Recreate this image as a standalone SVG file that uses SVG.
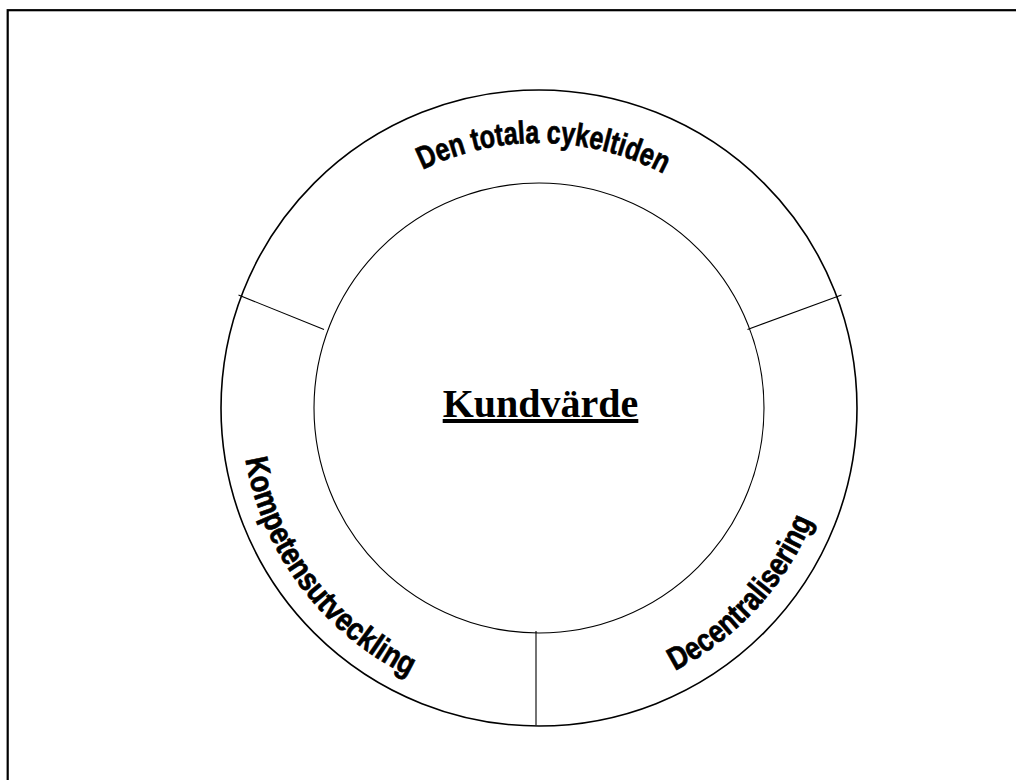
<svg xmlns="http://www.w3.org/2000/svg" width="1016" height="780" viewBox="0 0 1016 780">
  <style>
    .frame { fill: none; stroke: #000; stroke-width: 2.2; }
    .ring { fill: none; stroke: #000; }
    .outer { stroke-width: 1.6; }
    .inner { stroke-width: 1.1; }
    .divider { stroke: #000; stroke-width: 1.1; }
    .arc-label { font-family: "Liberation Sans", Arial, sans-serif; font-weight: bold; font-size: 32px; fill: #000; stroke: #000; stroke-width: 0.7; }
    .hub { font-family: "Liberation Serif", "Times New Roman", serif; font-weight: bold; font-size: 40px; fill: #000; text-decoration: underline; text-decoration-thickness: 3.5px; }
  </style>
  <defs>
    <path id="arc-top" d="M311.8,271.5 A265,265 0 0 1 770.8,279.5"/>
    <path id="arc-left" d="M264.7,291.6 A298,298 0 0 0 575.3,703.8"/>
    <path id="arc-right" d="M474.9,697.0 A296,296 0 0 0 821.3,319.0"/>
  </defs>

  <rect width="1016" height="780" fill="#fff"/>
  <!-- page frame, only top and left edges fall inside the page -->
  <rect class="frame" x="7.7" y="10.2" width="1100" height="900"/>

  <g id="ring">
    <circle class="ring outer" cx="539" cy="408" r="318"/>
    <circle class="ring inner" cx="539" cy="408" r="225"/>
  </g>

  <g id="connectors">
    <line class="divider" x1="238.5" y1="295" x2="324" y2="329.5"/>
    <line class="divider" x1="841.5" y1="295" x2="747.5" y2="329.5"/>
    <line class="divider" x1="536" y1="631" x2="536" y2="725" stroke="#555"/>
  </g>

  <g id="hub">
    <text class="hub" x="540.5" y="417" text-anchor="middle">Kundvärde</text>
  </g>

  <g id="segment-top">
    <text class="arc-label"><textPath href="#arc-top" startOffset="50%" text-anchor="middle" textLength="250" lengthAdjust="spacingAndGlyphs">Den totala cykeltiden</textPath></text>
  </g>

  <g id="segment-left">
    <text class="arc-label"><textPath href="#arc-left" startOffset="50%" text-anchor="middle" textLength="282" lengthAdjust="spacingAndGlyphs">Kompetensutveckling</textPath></text>
  </g>

  <g id="segment-right">
    <text class="arc-label"><textPath href="#arc-right" startOffset="50%" text-anchor="middle" textLength="208" lengthAdjust="spacingAndGlyphs">Decentralisering</textPath></text>
  </g>
</svg>
